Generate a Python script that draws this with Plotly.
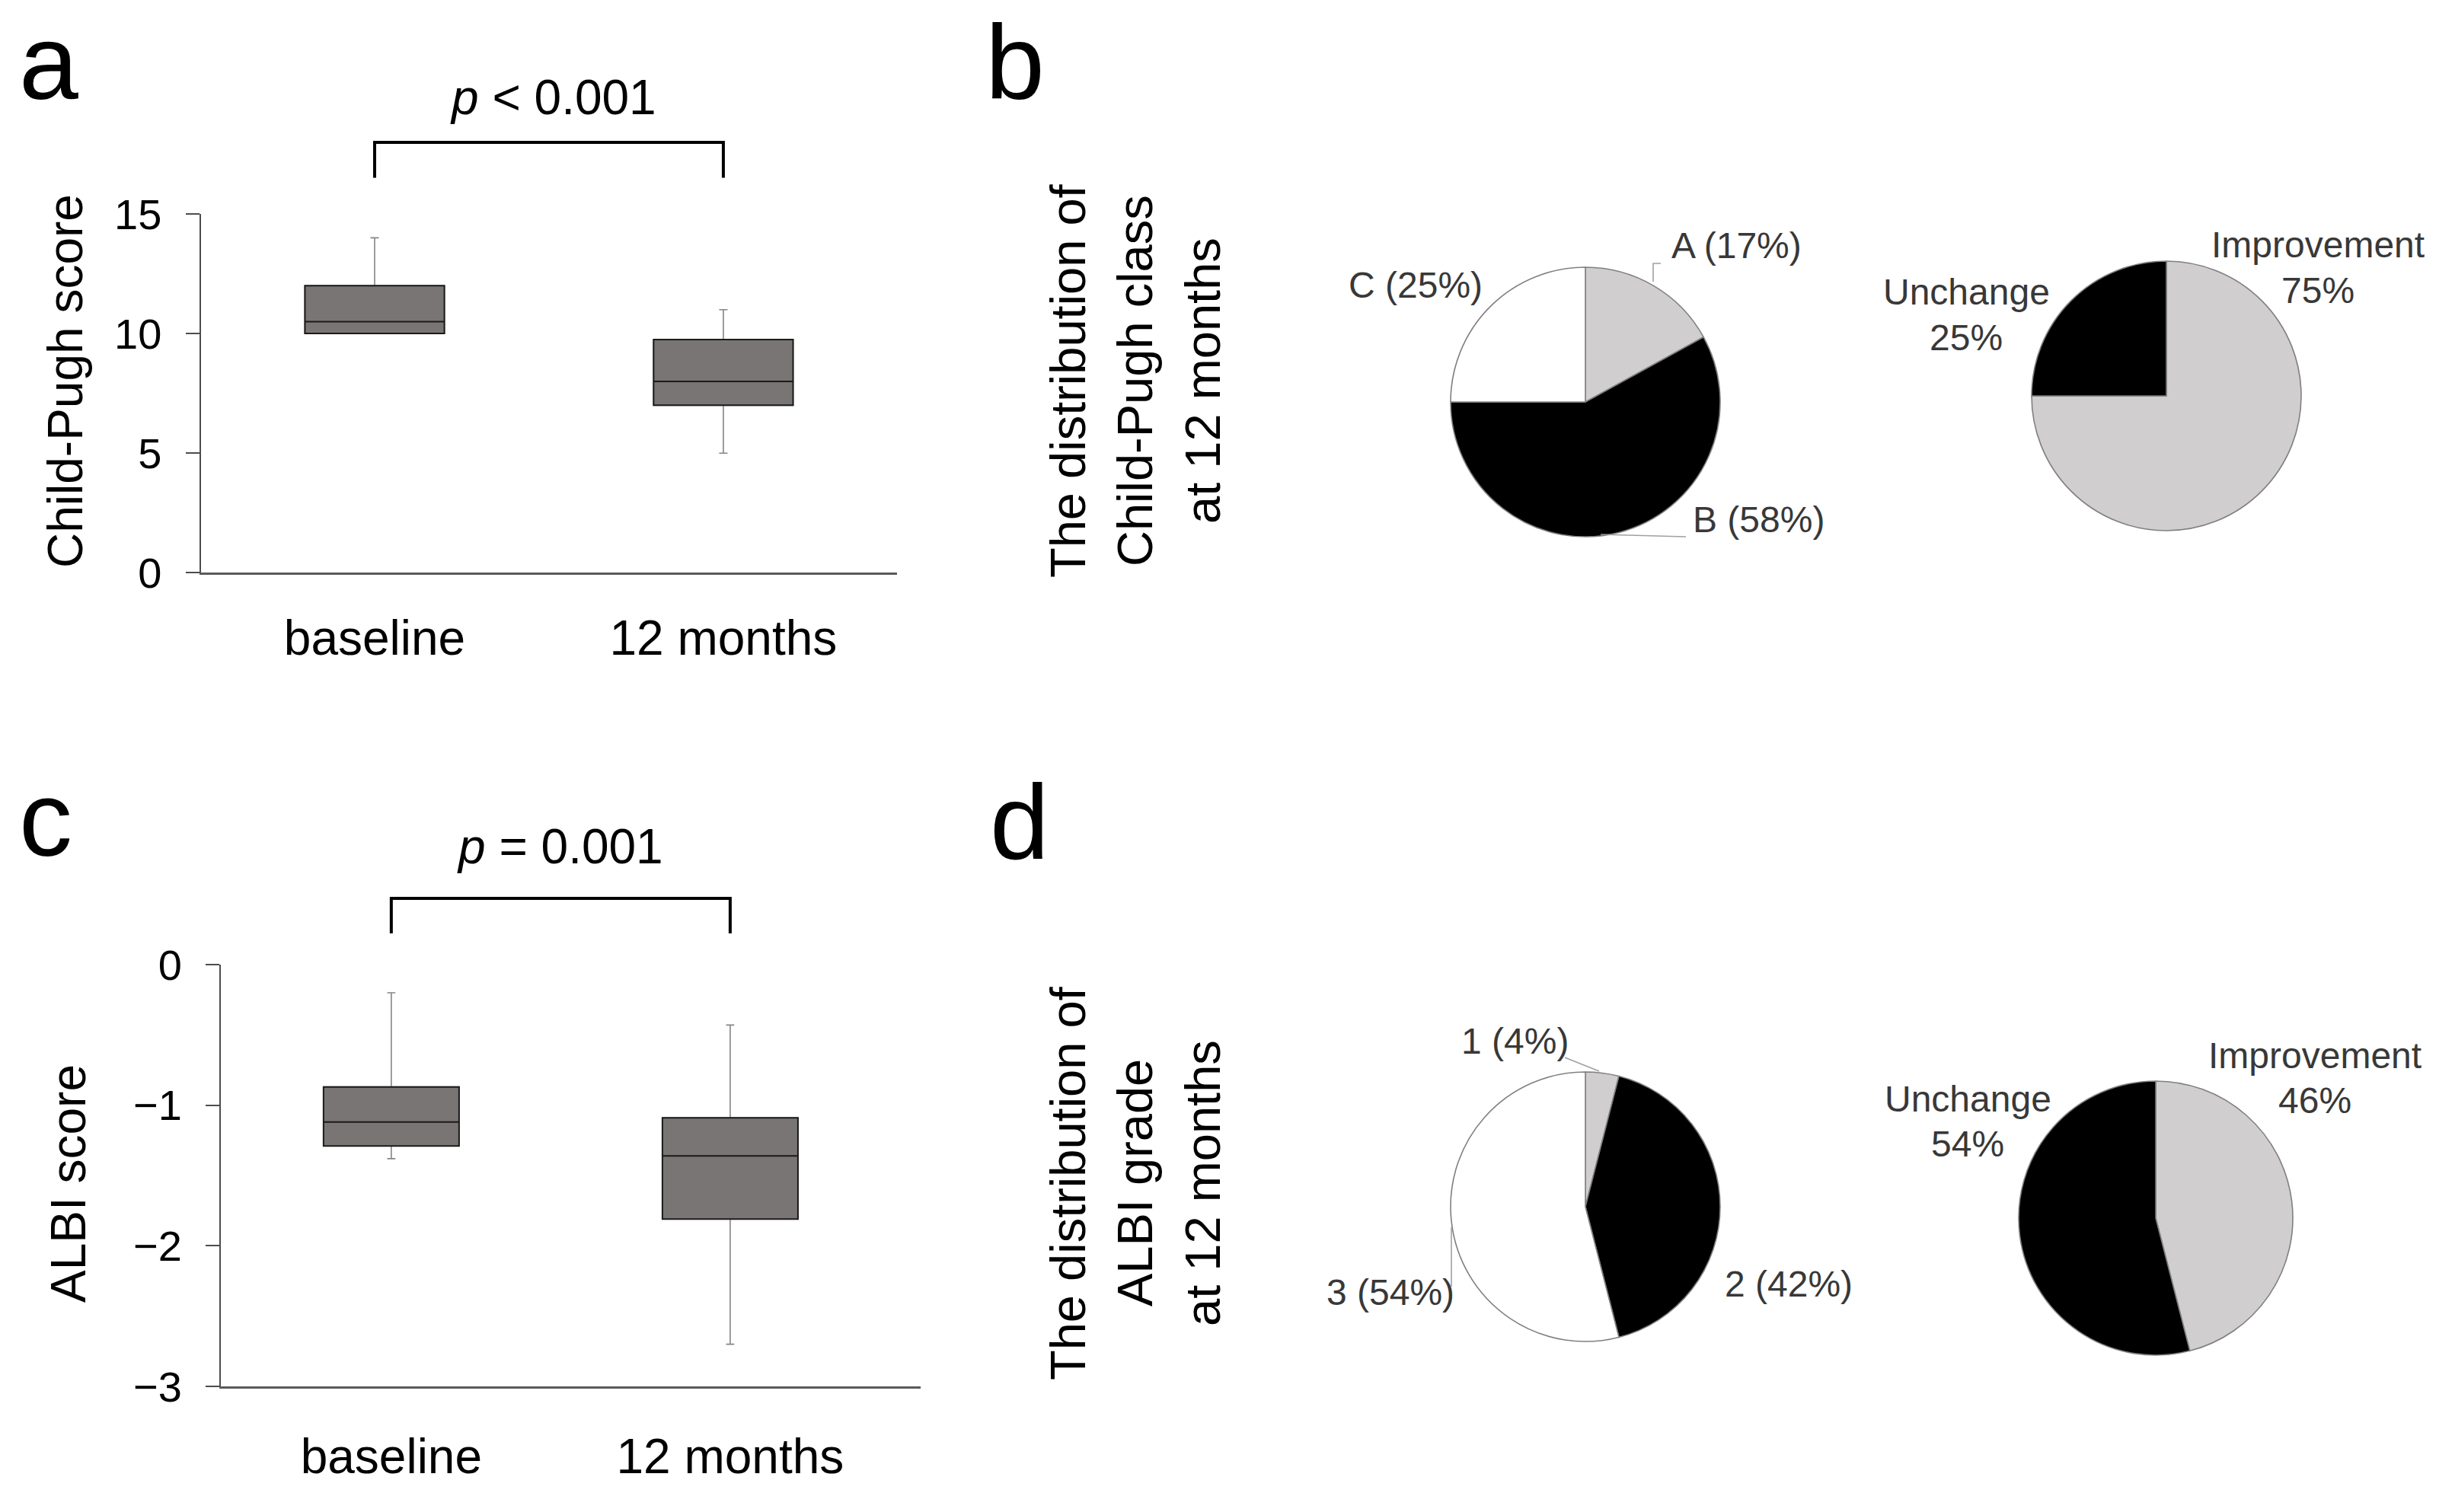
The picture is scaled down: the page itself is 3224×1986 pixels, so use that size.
import plotly.graph_objects as go

W, H = 3224, 1986
FONT = "Liberation Sans, Arial, sans-serif"

# ---------------- data ----------------
categories = ["baseline", "12 months"]
positions = [0, 1]

cp_q1 = [10, 7]
cp_median = [10.5, 8]
cp_q3 = [12, 9.75]
cp_low = [10, 5]
cp_high = [14, 11]
cp_ticks = [0, 5, 10, 15]

albi_q1 = [-1.29, -1.81]
albi_median = [-1.12, -1.36]
albi_q3 = [-0.87, -1.09]
albi_low = [-1.38, -2.70]
albi_high = [-0.20, -0.43]
albi_ticks = [-3, -2, -1, 0]

cp_class_labels = ["A", "B", "C"]
cp_class_pct = [17, 58, 25]
cp_change_labels = ["Improvement", "Unchange"]
cp_change_pct = [75, 25]
albi_grade_labels = ["1", "2", "3"]
albi_grade_pct = [4, 42, 54]
albi_change_labels = ["Improvement", "Unchange"]
albi_change_pct = [46, 54]

p_texts = ["<i>p</i> < 0.001", "<i>p</i> = 0.001"]
panel_letters = ["a", "b", "c", "d"]
y_titles = ["Child-Pugh score", "ALBI score"]
dist_titles = [["The distribution of", "Child-Pugh class", "at 12 months"],
               ["The distribution of", "ALBI grade", "at 12 months"]]

# ---------------- style ----------------
BOX_FILL = "#797574"
GRAY = "#d0cece"
PIE_LINE = "#808080"
LABEL_COLOR = "#383838"


def px(x):
    return x / W


def py(y):
    return 1 - y / H


fig = go.Figure()


def add_boxes(q1, med, q3, lo, hi, xa, ya):
    # whiskers (gray) + full box
    fig.add_trace(go.Box(
        x=positions, q1=q1, median=med, q3=q3, lowerfence=lo, upperfence=hi,
        width=0.4, whiskerwidth=0.06, fillcolor=BOX_FILL, boxpoints=False,
        line=dict(color="#858585", width=1.6), xaxis=xa, yaxis=ya,
        showlegend=False, hoverinfo="skip"))
    # box body with dark outline and median
    fig.add_trace(go.Box(
        x=positions, q1=q1, median=med, q3=q3, lowerfence=q1, upperfence=q3,
        width=0.4, whiskerwidth=0, fillcolor=BOX_FILL, boxpoints=False,
        line=dict(color="#1a1a1a", width=2), xaxis=xa, yaxis=ya,
        showlegend=False, hoverinfo="skip"))


add_boxes(cp_q1, cp_median, cp_q3, cp_low, cp_high, "x", "y")
add_boxes(albi_q1, albi_median, albi_q3, albi_low, albi_high, "x2", "y2")


def add_pie(labels, values, colors, x0, x1, y0, y1):
    fig.add_trace(go.Pie(
        labels=labels, values=values, sort=False, direction="clockwise",
        rotation=0, textinfo="none", hoverinfo="label+percent", automargin=False,
        marker=dict(colors=colors, line=dict(color=PIE_LINE, width=1.6)),
        domain=dict(x=[px(x0), px(x1)], y=[py(y1), py(y0)]),
        showlegend=False))


add_pie(cp_class_labels, cp_class_pct, [GRAY, "#000000", "#ffffff"], 1905, 2259, 351, 705)
add_pie(cp_change_labels, cp_change_pct, [GRAY, "#000000"], 2668, 3022, 343, 697)
add_pie(albi_grade_labels, albi_grade_pct, [GRAY, "#000000", "#ffffff"], 1905, 2259, 1408, 1762)
add_pie(albi_change_labels, albi_change_pct, [GRAY, "#000000"], 2651, 3011, 1420, 1780)

# ---------------- axes ----------------
xcommon = dict(showline=True, linecolor="#5a5a5a", linewidth=3, ticks="",
               showgrid=False, zeroline=False, tickvals=positions, automargin=False,
               ticktext=categories, tickfont=dict(family=FONT, size=64, color="#000"),
               fixedrange=True)
ycommon = dict(showline=True, linecolor="#4d4d4d", linewidth=2, ticks="outside",
               ticklen=18, tickwidth=2, tickcolor="#4d4d4d", showgrid=False,
               zeroline=False, tickfont=dict(family=FONT, size=56, color="#000"),
               ticklabelstandoff=20, fixedrange=True, automargin=False)

fig.update_layout(
    xaxis=dict(xcommon, domain=[px(263.5), px(1177.5)], range=[-0.499, 1.497],
               anchor="y", ticklabelstandoff=28),
    yaxis=dict(ycommon, domain=[py(752.3), py(281)], range=[0, 15], tickvals=cp_ticks, anchor="x"),
    xaxis2=dict(xcommon, domain=[px(290), px(1209)], range=[-0.503, 1.562],
                anchor="y2", ticklabelstandoff=34),
    yaxis2=dict(ycommon, domain=[py(1821), py(1267)], range=[-3, 0], tickvals=albi_ticks, anchor="x2"),
)

# ---------------- annotations ----------------
anns = []


def ann(text, x, y, size, color="#000", angle=0, yanchor="middle", pad=1):
    anns.append(dict(text=text, x=px(x), y=py(y), xref="paper", yref="paper",
                     xanchor="center", yanchor=yanchor, showarrow=False, borderpad=pad,
                     textangle=angle, font=dict(family=FONT, size=size, color=color)))


# panel letters (box top anchored just inside the page)
for letter, (lx, ly) in zip(panel_letters, [(64, 2), (1333, 2), (60, 996), (1339, 1000)]):
    ann(letter, lx, ly, 140, yanchor="top", pad=0)

# p values
ann(p_texts[0], 726, 128, 64)
ann(p_texts[1], 735, 1112, 64)

# y axis titles
ann(y_titles[0], 86, 501, 64, angle=-90)
ann(y_titles[1], 90, 1555, 64, angle=-90)

# distribution titles (three lines each)
for lines, cy in zip(dist_titles, [500, 1554]):
    for line, lx in zip(lines, [1402, 1490, 1579]):
        ann(line, lx, cy, 65, angle=-90)

# pie labels
for lab, pct, (lx, ly) in zip(cp_class_labels, cp_class_pct,
                              [(2280, 323), (2309, 682), (1859, 374)]):
    ann(f"{lab} ({pct}%)", lx, ly, 48, LABEL_COLOR)
for lab, pct, (lx, ly) in zip(albi_grade_labels, albi_grade_pct,
                              [(1989, 1367), (2349, 1686), (1826, 1697)]):
    ann(f"{lab} ({pct}%)", lx, ly, 48, LABEL_COLOR)
for lab, pct, (lx, ly) in zip(cp_change_labels, cp_change_pct,
                              [(3044, 322), (2582, 384)]):
    ann(lab, lx, ly, 48, LABEL_COLOR)
    ann(f"{pct}%", lx, ly + 59, 48, LABEL_COLOR)
for lab, pct, (lx, ly) in zip(albi_change_labels, albi_change_pct,
                              [(3040, 1386), (2584, 1443)]):
    ann(lab, lx, ly, 48, LABEL_COLOR)
    ann(f"{pct}%", lx, ly + 59, 48, LABEL_COLOR)

# ---------------- shapes: brackets & leader lines ----------------
shapes = []
for xr, yb, yt in [("x", 233.6, 187.0), ("x2", 1226.0, 1180.0)]:
    shapes.append(dict(type="path", xref=xr, yref="paper",
                       path=f"M {positions[0]},{py(yb)} L {positions[0]},{py(yt)} "
                            f"L {positions[1]},{py(yt)} L {positions[1]},{py(yb)}",
                       line=dict(color="#000", width=4)))


def leader(points):
    path = "M " + " L ".join(f"{px(a)},{py(b)}" for a, b in points)
    shapes.append(dict(type="path", xref="paper", yref="paper", path=path,
                       line=dict(color="#a0a0a0", width=1.6)))


leader([(2171, 370), (2171, 346), (2181, 346)])
leader([(2102, 702), (2214, 705)])
leader([(2055, 1389), (2100, 1407)])
leader([(1906, 1612), (1906, 1690)])

fig.update_layout(
    template="none",
    width=W, height=H, margin=dict(l=0, r=0, t=0, b=0, pad=0, autoexpand=False),
    paper_bgcolor="white", plot_bgcolor="white", showlegend=False,
    annotations=anns, shapes=shapes, font=dict(family=FONT),
)

fig.write_html("out.html", config={"displayModeBar": False},
               post_script="document.body.style.margin='0';document.body.style.overflow='hidden';")
